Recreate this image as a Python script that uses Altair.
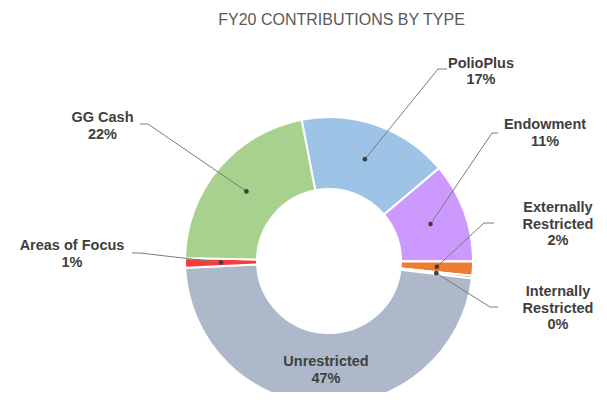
import math
import altair as alt
import pandas as pd

# ---- data ----
categories = ["PolioPlus", "Endowment", "Externally Restricted", "Internally Restricted",
              "Unrestricted", "Areas of Focus", "GG Cash"]
values = [16.9, 11.2, 1.6, 0.3, 47.3, 1.1, 21.6]
label_names = ["PolioPlus", "Endowment", "Externally\nRestricted", "Internally\nRestricted",
               "Unrestricted", "Areas of Focus", "GG Cash"]
title_text = ["FY20 CONTRIBUTIONS BY TYPE"]

# ---- styles ----
colors = ["#9DC3E6", "#CC99FF", "#ED7D31", "#A5A5A5", "#ADB9CA", "#F83C3C", "#A9D18E"]
TEXT_COLOR = "#404040"
LINE_COLOR = "#7A7A7A"
FONT = "Arial"

# ---- layout ----
PAD_L, PAD_T, PAD_R, PAD_B = 121, 128, 70, 6
W, H = 400, 250
OX, OY = 8 + PAD_L, 8 + PAD_T          # page position of the view origin
CX, CY = W / 2, H / 2                 # pie centre in view pixels
START = math.radians(-11)             # angle where the first slice begins
R_IN, R_OUT, R_DOT = 72, 144, 108
TITLE_POS = (341.5, 19.5)

# first-line centres of the labels and leader-line points, page pixels
label_pos = [(481, 63.5), (545, 125), (558, 208), (558, 292), (326, 362), (72, 246), (102.5, 118)]
leader_elbow = [(438, 69), (492, 133), (484, 223), (490, 307), None, (140, 253), (148, 124)]
leader_end = [(447, 69), (498, 133), (494, 223), (498, 307), None, (132, 253), (140, 124)]

total = sum(values)
rows = []
for i, (c, v) in enumerate(zip(categories, values)):
    pct = round(v / total * 100)
    lx, ly = label_pos[i]
    e = leader_elbow[i]
    n = leader_end[i]
    rows.append({
        "category": c,
        "value": v,
        "order": i,
        "label": f"{label_names[i]}\n{pct}%",
        "tx": lx - OX, "ty": ly - OY,
        "has_leader": e is not None,
        "ex": (e[0] - OX) if e else 0, "ey": (e[1] - OY) if e else 0,
        "nx": (n[0] - OX) if n else 0, "ny": (n[1] - OY) if n else 0,
    })
df = pd.DataFrame(rows)

base = alt.Chart(df)

theta = alt.Theta("value:Q", stack=True,
                  scale=alt.Scale(range=[START, START + 2 * math.pi]))
color = alt.Color("category:N", scale=alt.Scale(domain=categories, range=colors), legend=None)
order = alt.Order("order:Q", sort="ascending")

arcs = base.mark_arc(innerRadius=R_IN, outerRadius=R_OUT, stroke="white", strokeWidth=2).encode(
    theta=theta, color=color, order=order,
    tooltip=["category:N", "value:Q"]
)

computed = (
    base.transform_joinaggregate(total="sum(value)")
    .transform_window(cum="sum(value)", sort=[alt.SortField("order")], frame=[None, 0])
    .transform_calculate(ang=f"{START} + 2*PI*(datum.cum - datum.value/2)/datum.total")
    .transform_calculate(dx=f"{CX} + {R_DOT}*sin(datum.ang)")
    .transform_calculate(dy=f"{CY} - {R_DOT}*cos(datum.ang)")
    .transform_filter("datum.has_leader")
)

xs = lambda f: alt.X(f, scale=None, axis=None)
ys = lambda f: alt.Y(f, scale=None, axis=None)

lead1 = computed.mark_rule(color=LINE_COLOR, strokeWidth=1).encode(
    x=xs("dx:Q"), y=ys("dy:Q"), x2="ex:Q", y2="ey:Q")
lead2 = computed.mark_rule(color=LINE_COLOR, strokeWidth=1).encode(
    x=xs("ex:Q"), y=ys("ey:Q"), x2="nx:Q", y2="ny:Q")
dots = computed.mark_circle(size=22, color=TEXT_COLOR, opacity=1).encode(
    x=xs("dx:Q"), y=ys("dy:Q"))

labels = base.mark_text(font=FONT, fontSize=14.5, fontWeight="bold", color=TEXT_COLOR,
                        lineBreak="\n", lineHeight=16.5, align="center", baseline="middle").encode(
    x=xs("tx:Q"), y=ys("ty:Q"), text="label:N")

title_df = pd.DataFrame({"title": title_text,
                         "tx": [TITLE_POS[0] - OX], "ty": [TITLE_POS[1] - OY]})
title = alt.Chart(title_df).mark_text(font=FONT, fontSize=16, fontWeight="normal",
                                      color="#595959", align="center", baseline="middle").encode(
    x=xs("tx:Q"), y=ys("ty:Q"), text="title:N")

chart = alt.layer(arcs, lead1, lead2, dots, labels, title).properties(
    width=W, height=H,
    autosize=alt.AutoSizeParams(type="none"),
    padding={"left": PAD_L, "top": PAD_T, "right": PAD_R, "bottom": PAD_B},
    background="white",
).configure_view(stroke=None)

chart.save("out.html", embed_options={"renderer": "svg", "actions": False})
